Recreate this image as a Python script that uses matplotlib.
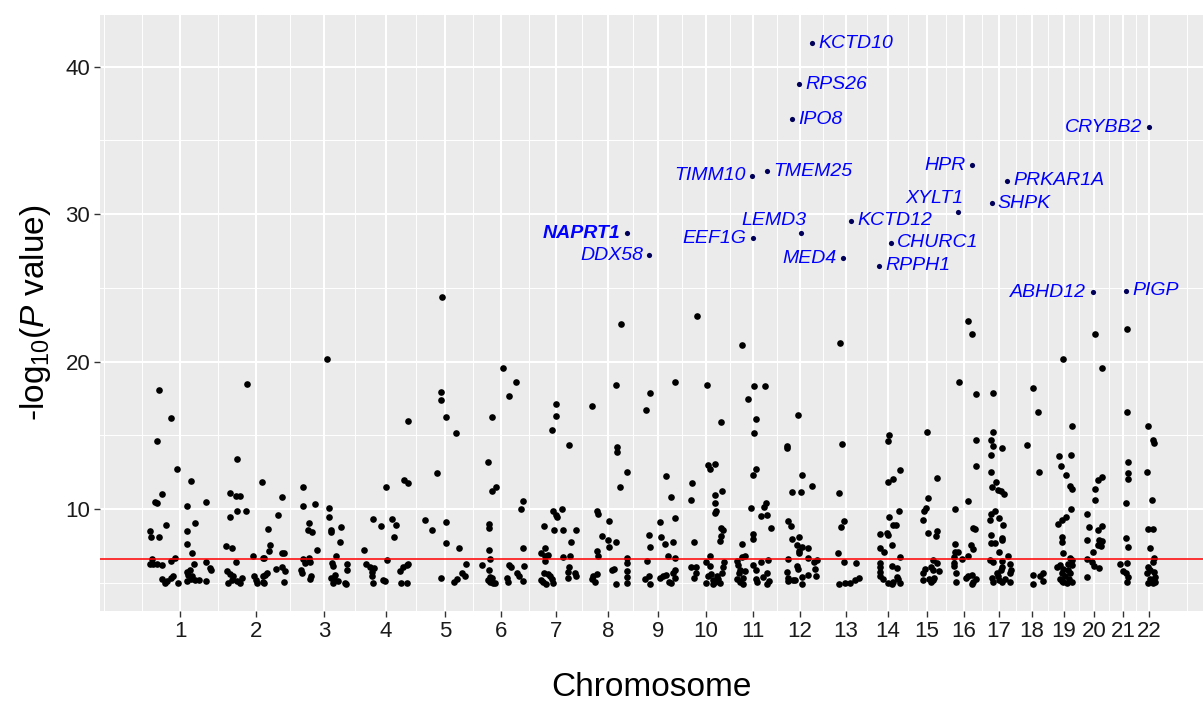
import matplotlib
matplotlib.use("Agg")
import matplotlib.pyplot as plt
from matplotlib.ticker import FixedLocator

plt.rcParams["font.family"] = ["Liberation Sans", "DejaVu Sans"]
plt.rcParams["mathtext.fontset"] = "custom"
plt.rcParams["mathtext.rm"] = "Liberation Sans"
plt.rcParams["mathtext.it"] = "Liberation Sans:italic"

# chromosome label positions on the cumulative position axis
chrom_labels = [str(i) for i in range(1, 23)]
chrom_centers = [180, 256, 324, 386, 445, 501, 556, 608, 658, 706, 753,
                 800, 846, 888, 927, 964, 999, 1032, 1064, 1094, 1123, 1149]

threshold = 6.63

# (cumulative position, -log10 P) per chromosome
chr1 = [(158.7, 18.1), (171.3, 16.2), (156.7, 14.6), (176.7, 12.7), (190.7, 11.9), (162.3, 11.0),
        (155, 10.5), (156.7, 10.4), (187.3, 10.25), (205.7, 10.5), (150, 8.55), (150.7, 8.1),
        (159, 8.1), (165.7, 8.9), (186.7, 8.5), (194.7, 9.05), (187.3, 7.65), (191.7, 7.05),
        (151.7, 6.6), (150, 6.3), (153.3, 6.3), (157.3, 6.3), (161.7, 6.25), (170.7, 6.5),
        (175, 6.7), (194.3, 6.3), (206, 6.4), (210, 6.0), (210.7, 5.85), (162.3, 5.25),
        (165, 5.0), (166.7, 5.1), (170.7, 5.35), (172.7, 5.5), (177.7, 5.0), (187.3, 5.75),
        (188.3, 5.55), (190, 5.9), (191.7, 5.45), (187.3, 5.1), (190.7, 5.3), (195, 5.2),
        (199, 5.2), (206, 5.1)]
chr2 = [(230, 11.1), (236.7, 13.4), (236.3, 10.9), (240, 10.9), (236.7, 9.85), (230, 9.5),
        (246.3, 9.85), (246.7, 18.5), (262, 11.85), (225.7, 7.5), (232.3, 7.4), (235.7, 6.4),
        (253, 6.8), (263.3, 6.7), (226.7, 5.8), (230, 5.6), (232.7, 5.5), (228.3, 5.0),
        (231.7, 5.2), (236.7, 5.1), (240, 5.0), (242.3, 5.35), (254, 5.5), (255.7, 5.2),
        (256.7, 5.0), (263.3, 5.5), (263.3, 5.05), (282.3, 10.85), (278.3, 9.6), (268, 8.65),
        (270, 7.6), (269, 7.2), (264.3, 6.7), (281.7, 7.0), (284.3, 7.0), (265, 5.55),
        (266.7, 5.7), (264.3, 5.0), (276, 5.95), (282.3, 6.1), (285, 5.8), (284.3, 5.05)]
chr3 = [(326.7, 20.2), (303.3, 11.5), (303.3, 10.2), (315.3, 10.35), (329.3, 10.1), (329.3, 9.5),
        (308.7, 9.05), (308.3, 8.6), (312.3, 8.45), (330.7, 8.6), (330.7, 8.45), (341, 8.8),
        (340, 7.75), (316.7, 7.25), (302.7, 6.6), (305, 6.35), (309, 6.7), (310, 6.4),
        (336, 6.85), (332, 6.35), (333.3, 6.15), (347.3, 6.3), (347.3, 5.85), (301, 5.9),
        (301.7, 5.65), (310.7, 5.5), (310, 5.25), (331, 5.35), (332.7, 5.0), (335, 5.55),
        (334, 5.25), (338.3, 5.1), (345, 5.0), (346, 4.95)]
chr4 = [(407.7, 16.0), (404, 11.95), (407.7, 11.8), (385.7, 11.5), (372.7, 9.35), (380.7, 8.85),
        (392.3, 9.35), (396, 8.95), (394, 8.1), (364, 7.25), (387.3, 6.55), (366, 6.3),
        (370, 6.1), (374, 6.0), (371.7, 5.75), (372.3, 5.5), (373.3, 5.0), (382.7, 5.2),
        (385, 5.15), (400.7, 5.0), (407.3, 5.0), (400, 5.8), (403.3, 6.1), (406.7, 6.2),
        (408.3, 6.3)]
chr5 = [(424.5, 9.3), (441.7, 24.4), (441, 17.95), (441, 17.4), (446.3, 16.25), (455.7, 15.15),
        (436.7, 12.45), (431.7, 8.6), (446, 9.15), (446, 7.7), (459.3, 7.4), (466, 6.3),
        (440.7, 5.35), (454.3, 5.05), (457.3, 5.25), (462.3, 5.65), (465, 5.45)]
chr6 = [(502.7, 19.6), (515.7, 18.6), (508.7, 17.7), (491.7, 16.25), (488, 13.2), (492.3, 11.25),
        (495.7, 11.5), (523, 10.55), (520.7, 10.0), (489.3, 9.0), (489.3, 8.7), (489, 7.25),
        (523.3, 7.4), (490.3, 6.65), (482.3, 6.25), (489, 5.9), (488.3, 5.2), (490, 5.4),
        (492, 5.35), (490, 5.05), (493.3, 5.0), (495.3, 5.0), (508.7, 6.25), (511.3, 6.05),
        (507.3, 5.35), (507.7, 5.05), (516.7, 5.7), (519, 5.5), (523.3, 5.1), (523.7, 6.15)]
chr7 = [(556.3, 17.15), (556.3, 16.35), (551.7, 15.4), (569.3, 14.35), (552.7, 9.85), (556, 9.6),
        (556.7, 9.5), (562, 10.0), (544, 8.85), (554.3, 8.6), (562.7, 8.6), (576, 8.6),
        (570.7, 7.75), (545.3, 7.4), (541, 7.05), (547.7, 6.9), (545, 6.8), (545, 6.5),
        (562.7, 6.75), (569.7, 6.8), (569.3, 6.1), (568.3, 5.75), (568, 5.35), (574.7, 5.65),
        (576, 5.45), (541, 5.2), (543.3, 5.05), (546, 4.95), (544, 5.7), (547.7, 5.6),
        (550, 5.5), (551.7, 5.3), (553.3, 5.0)]
chr8 = [(621.3, 22.55), (591.7, 17.0), (616.3, 18.4), (616.7, 14.2), (616.7, 13.9), (626.7, 12.5),
        (619.7, 11.5), (597.3, 9.9), (597.7, 9.7), (609.3, 9.2), (601.7, 8.2), (607.7, 7.9),
        (608.7, 7.45), (615.7, 7.75), (597.3, 7.2), (598.3, 6.85), (626.7, 6.7), (626.7, 6.35),
        (626.7, 5.8), (626.7, 5.4), (626.7, 5.0), (593.3, 5.5), (591.7, 5.3), (595, 5.05),
        (597.3, 5.6), (611.7, 5.85), (614.3, 5.95), (615.7, 4.95)]
chr9 = [(650, 17.85), (646, 16.75), (665.7, 12.25), (671.3, 10.8), (660, 9.15), (675, 9.4),
        (649.3, 8.25), (649.7, 7.45), (660.7, 8.15), (665, 7.65), (673.3, 7.75), (675.3, 18.6),
        (646.7, 6.5), (667.7, 6.85), (675.3, 6.7), (675.3, 5.9), (673.3, 5.65), (675, 5.35),
        (645, 5.25), (649.3, 5.5), (650.3, 4.95), (660, 5.35), (663.3, 5.5), (666, 5.55),
        (669.3, 5.05), (670.7, 5.0)]
chr10 = [(696.7, 23.1), (707.3, 18.45), (721.3, 15.9), (691.7, 11.8), (691, 10.65), (707.7, 13.0),
         (710.3, 12.75), (715, 13.05), (715, 10.95), (715, 10.4), (716, 9.85), (715, 9.75),
         (722.3, 11.25), (694, 7.75), (721.3, 8.7), (721.3, 8.2), (720.3, 7.85), (723.3, 8.6),
         (710, 6.8), (705.7, 6.45), (710, 6.15), (724, 6.45), (723.3, 6.1), (691, 6.05),
         (695.7, 6.1), (694, 5.35), (695.7, 5.7), (705.7, 5.0), (707.7, 5.5), (710.7, 5.6),
         (713.3, 5.2), (715, 5.05), (716.7, 5.5), (718.3, 5.3), (720, 5.0), (721.7, 5.65),
         (712.7, 4.95)]
chr11 = [(741.7, 21.1), (741.7, 7.65), (742.3, 6.75), (736.7, 6.5), (738.3, 6.2), (740, 5.9),
         (739, 5.65), (737.3, 5.25), (740, 5.05), (742.7, 5.35), (743.3, 4.95), (754.3, 18.35),
         (765, 18.35), (748.3, 17.45), (756, 16.1), (754.3, 15.15), (755.7, 12.7), (752.7, 12.3),
         (751, 10.1), (766, 10.45), (764, 10.15), (760.7, 9.55), (766.7, 9.6), (770.7, 8.7),
         (753.3, 8.3), (752.7, 7.95), (745, 6.8), (768.3, 6.55), (745, 5.8), (752.7, 6.25),
         (755.7, 5.9), (760.7, 6.4), (756, 5.25), (756.7, 5.05), (762.7, 5.4), (767.3, 5.65),
         (766.7, 4.95), (769.3, 5.1)]
chr12 = [(798.3, 16.4), (787.3, 14.3), (787.3, 14.15), (801.7, 12.35), (792.3, 11.2), (801, 11.15),
         (812.3, 11.6), (788.3, 9.2), (791, 8.85), (792.3, 7.95), (799.3, 8.1), (796.7, 7.55),
         (801.7, 7.45), (798.7, 7.2), (798.7, 7.0), (808.3, 7.4), (787.7, 6.6), (808.3, 6.7),
         (814, 6.45), (817.3, 6.55), (786.7, 5.75), (787.7, 5.35), (788.3, 5.1), (793.3, 5.2),
         (796.7, 6.15), (798.3, 5.95), (795, 5.2), (802.3, 4.95), (802, 5.4), (808.3, 5.55),
         (815.7, 5.5), (815, 5.95)]
chr13 = [(839.7, 21.3), (842.3, 14.45), (839.3, 11.1), (844, 9.2), (840.7, 8.8), (838.3, 7.05),
         (844.3, 6.45), (856, 6.35), (839, 4.95), (845, 5.0), (850, 5.0), (855, 5.2), (859, 5.35)]
chr14 = [(888.7, 15.05), (887.7, 14.6), (888.3, 11.85), (893.3, 12.05), (900, 12.65), (889.3, 9.45),
         (893.3, 8.9), (896, 8.95), (899.3, 9.85), (886.7, 8.4), (888.3, 8.25), (880, 8.3),
         (880, 7.4), (884, 7.1), (892.3, 7.55), (880, 6.35), (880, 6.05), (880, 5.75),
         (892, 6.15), (900.3, 6.75), (897.3, 6.0), (880, 5.5), (883.3, 5.25), (888.3, 5.0),
         (891.7, 4.95), (893.3, 5.05), (896.7, 5.4), (898.3, 5.25), (900, 5.0)]
chr15 = [(927.3, 15.25), (937.3, 12.1), (927.7, 10.75), (926, 10.05), (924, 9.9), (923.3, 9.25),
         (927.7, 8.4), (936.7, 8.55), (935.7, 8.2), (933.3, 6.55), (936.7, 6.35), (939.3, 5.8),
         (925, 5.95), (930.7, 6.05), (922.7, 5.65), (933.3, 5.9), (922.7, 5.2), (929.3, 5.25),
         (931, 5.05), (933.3, 5.2), (934.3, 5.35)]
chr16 = [(968, 22.75), (971.7, 21.9), (958.7, 18.6), (976, 17.8), (976, 14.7), (976, 12.95),
         (967.7, 10.55), (955, 10.0), (973.3, 8.7), (975.3, 8.65), (955, 7.65), (955, 7.1),
         (958.3, 7.1), (954, 6.75), (971, 7.55), (973.3, 7.3), (967.7, 6.8), (961.7, 6.65),
         (954, 6.35), (954, 6.15), (955.7, 5.65), (956, 5.05), (965.7, 5.35), (968.3, 5.5),
         (971.7, 5.55), (973.3, 5.05), (976, 5.25), (971.7, 4.95)]
chr17 = [(992.7, 17.9), (992.7, 15.2), (991, 14.7), (992.7, 14.3), (1001.7, 14.15), (990.7, 13.7),
         (990.7, 12.5), (995.7, 11.85), (992, 11.5), (998.3, 11.3), (1000.7, 11.25), (1003.7, 11.0),
         (990.7, 9.7), (995.3, 9.85), (990, 9.25), (999, 9.4), (1002.7, 8.9), (990.7, 8.25),
         (990.7, 7.7), (995, 7.7), (1002, 8.05), (1002, 7.9), (999.3, 7.1), (990, 6.55),
         (992.7, 6.45), (1008.3, 6.8), (1010, 6.3), (1002.3, 6.5), (1002.3, 6.05), (1000.7, 5.85),
         (1010.7, 5.85), (1010, 5.65), (992, 5.35), (992.7, 5.05), (996.7, 5.7), (998.3, 5.5),
         (998.7, 5.2), (1001.7, 5.05), (1005, 5.3), (1010, 5.05)]
chr18 = [(1033.3, 18.25), (1038.3, 16.6), (1027.3, 14.35), (1039.3, 12.55), (1032.7, 5.55),
         (1033.3, 4.95), (1040, 5.45), (1043.3, 5.65), (1043.3, 5.1)]
chr19 = [(1062.7, 20.15), (1071.7, 15.65), (1059.3, 13.6), (1070.7, 13.65), (1061, 12.95),
         (1065.7, 12.35), (1070, 11.6), (1072.3, 11.4), (1071, 10.0), (1066, 9.5), (1061.7, 9.3),
         (1058.3, 9.0), (1061.7, 8.1), (1062.3, 7.8), (1062.7, 7.05), (1070, 6.7), (1071.7, 6.55),
         (1068.3, 6.3), (1072.3, 6.25), (1057.3, 6.05), (1060, 6.2), (1063.3, 5.95), (1061.7, 5.7),
         (1065, 5.5), (1060, 5.25), (1063.3, 5.05), (1068.3, 5.85), (1070, 5.65), (1069.3, 5.3),
         (1071.7, 5.05), (1066.7, 5.0), (1061.7, 5.15)]
chr20 = [(1095, 21.85), (1101.7, 19.6), (1101.7, 12.2), (1098.3, 11.95), (1095, 11.35), (1095, 10.65),
         (1086.7, 9.65), (1089, 8.8), (1101.7, 8.85), (1098.3, 8.6), (1086.7, 7.9), (1099.3, 7.9),
         (1101.7, 7.85), (1098.3, 7.55), (1100.7, 7.5), (1092.7, 7.1), (1087.3, 6.6), (1091.7, 6.45),
         (1094, 6.15), (1099.3, 6.0), (1087.3, 5.4)]
chr21 = [(1127.3, 22.2), (1126.7, 16.6), (1128.3, 13.2), (1128, 12.45), (1128, 12.05), (1126, 10.4),
         (1126, 8.05), (1128.3, 7.45), (1120, 6.3), (1126.7, 6.35), (1123.3, 5.8), (1126, 5.65),
         (1128.3, 5.4), (1126.7, 5.05)]
chr22 = [(1148, 15.65), (1153.3, 14.7), (1154, 14.5), (1147.3, 12.5), (1151.7, 10.65), (1147.7, 8.65),
         (1153.3, 8.65), (1150, 7.4), (1154.3, 6.7), (1153.3, 6.45), (1148.3, 6.1), (1150, 5.85),
         (1147.3, 5.65), (1154, 5.75), (1155, 5.4), (1150, 5.25), (1148.3, 5.0), (1152.7, 5.0),
         (1155, 5.05)]

chromosomes = [chr1, chr2, chr3, chr4, chr5, chr6, chr7, chr8, chr9, chr10, chr11,
               chr12, chr13, chr14, chr15, chr16, chr17, chr18, chr19, chr20, chr21, chr22]

# top hits with gene names
genes = ["KCTD10", "RPS26", "IPO8", "TIMM10", "TMEM25", "LEMD3", "NAPRT1", "EEF1G",
         "DDX58", "MED4", "KCTD12", "CHURC1", "RPPH1", "HPR", "XYLT1", "SHPK",
         "PRKAR1A", "CRYBB2", "ABHD12", "PIGP"]
gene_pos = [812, 798.7, 792.3, 751.7, 766.7, 801, 626.7, 753,
            649.3, 843.3, 850.7, 890.7, 879.3, 972, 958.3, 991.7,
            1006.7, 1148.7, 1092.7, 1126]
gene_logp = [41.6, 38.8, 36.45, 32.6, 32.9, 28.7, 28.7, 28.35,
             27.2, 27.0, 29.55, 28.05, 26.5, 33.3, 30.15, 30.75,
             32.25, 35.9, 24.7, 24.8]
# label placement: (dx, dy) in points and horizontal alignment
label_side = {"right": ((4.5, 0), "left"), "left": ((-4.5, 0), "right"),
              "above": ((4, 9.5), "right")}
gene_side = ["right", "right", "right", "left", "right", "above", "left", "left",
             "left", "left", "right", "right", "right", "left", "above", "right",
             "right", "left", "left", "right"]

fig = plt.figure(figsize=(12.03, 7.01), dpi=100)
ax = fig.add_axes([100 / 1203, 90 / 701, 1103 / 1203, 596 / 701])
ax.set_facecolor("#EBEBEB")

xs = [p for chrom in chromosomes for p, _ in chrom]
ys = [v for chrom in chromosomes for _, v in chrom]
ax.scatter(xs, ys, s=23, color="black", linewidths=0, zorder=3)

ax.axhline(threshold, color="#FF0000", linewidth=1.1, zorder=4)

ax.scatter(gene_pos, gene_logp, s=14, color="#00005A", linewidths=0, zorder=5)
for name, x, y, side in zip(genes, gene_pos, gene_logp, gene_side):
    offset, ha = label_side[side]
    ax.annotate(name, (x, y), xytext=offset, textcoords="offset points",
                ha=ha, va="center", color="#0000FF", fontsize=14, style="italic",
                fontweight="bold" if name == "NAPRT1" else "normal", zorder=6)

# minor grid halfway between chromosomes, extended one step past each end
step = chrom_centers[1] - chrom_centers[0]
ext = [chrom_centers[0] - step] + chrom_centers + [chrom_centers[-1] + step]
x_minor = [(a + b) / 2 for a, b in zip(ext[:-1], ext[1:])] + [ext[0]]

ax.set_xlim(100, 1203)
ax.set_ylim(3.1, 43.5)
ax.set_xticks(chrom_centers)
ax.set_xticklabels(chrom_labels)
ax.xaxis.set_minor_locator(FixedLocator(x_minor))
ax.set_yticks([10, 20, 30, 40])
ax.yaxis.set_minor_locator(FixedLocator([5, 15, 25, 35]))

ax.grid(which="major", color="white", linewidth=1.5, zorder=0)
ax.grid(which="minor", color="white", linewidth=0.7, zorder=0)
ax.set_axisbelow(True)
for spine in ax.spines.values():
    spine.set_visible(False)

ax.tick_params(which="major", length=4, width=1, color="#333333",
               labelsize=16, labelcolor="#1A1A1A", pad=3)
ax.tick_params(which="minor", length=0)

ax.set_xlabel("Chromosome", fontsize=24, labelpad=22)
ax.set_ylabel(r"-log$_{10}$($\mathit{P}$ value)", fontsize=24, labelpad=9)

fig.savefig("out.png", dpi=100)
